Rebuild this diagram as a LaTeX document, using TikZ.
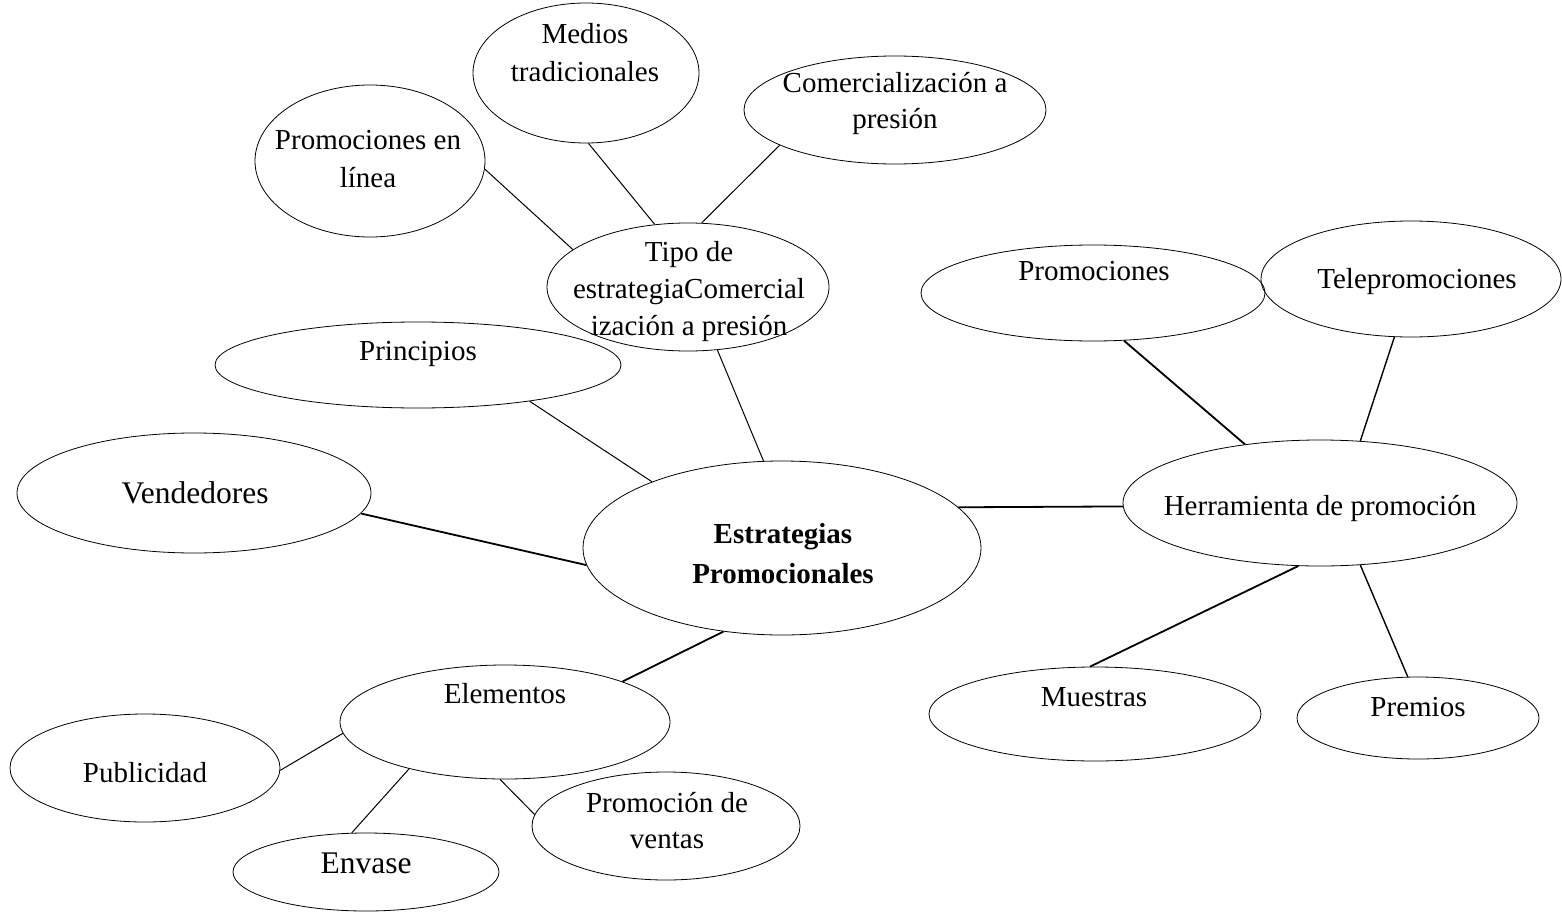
\documentclass[tikz,border=0pt]{standalone}
\usepackage{fontspec}
\setmainfont{Liberation Serif}
\usetikzlibrary{shapes.geometric}
\begin{document}
\begin{tikzpicture}[x=1pt,y=-1pt,
  bub/.style 2 args={draw, ellipse, inner sep=0pt, line width=0.8pt,
    minimum width={2*#1pt}, minimum height={2*#2pt}},
  lbl/.style={font=\fontsize{29}{37}\selectfont, align=center, inner sep=0pt, anchor=base},
  big/.style={font=\fontsize{31.5}{37}\selectfont},
  thinlink/.style={line width=1.0pt},
  midlink/.style={line width=1.4pt},
  thicklink/.style={line width=1.8pt}]
\useasboundingbox (0,0) rectangle (1562,912);

% bubbles
\node[bub={199}{87}]  (C)  at (782,548) {};
\node[bub={141}{64}]  (T)  at (688,287) {};
\node[bub={115}{76}]  (PL) at (370,161) {};
\node[bub={113}{70}]  (MT) at (586,73)  {};
\node[bub={151}{54}]  (CP) at (895,110) {};
\node[bub={203}{43}]  (PR) at (418,365) {};
\node[bub={177}{60}]  (VE) at (194,493) {};
\node[bub={172}{48}]  (PM) at (1093,293) {};
\node[bub={150}{58}]  (TE) at (1411,279) {};
\node[bub={197}{63}]  (HE) at (1320,503) {};
\node[bub={166}{47}]  (MU) at (1095,714) {};
\node[bub={121}{41}]  (PE) at (1418,718) {};
\node[bub={165}{57}]  (EL) at (505,722) {};
\node[bub={135}{54}]  (PU) at (145,768) {};
\node[bub={133}{39}]  (EN) at (366,872) {};
\node[bub={134}{54}]  (PV) at (666,826) {};

% labels (multi-line labels sit on the baseline of their last line)
\node[lbl, font=\fontsize{29}{40}\selectfont\bfseries] (tC) at (783,583) {Estrategias\\Promocionales};
\node[lbl] (tT)  at (689,335) {Tipo de\\estrategiaComercial\\ización a presión};
\node[lbl, font=\fontsize{29}{39}\selectfont] (tPL) at (368,188) {Promociones en\\línea};
\node[lbl, font=\fontsize{29}{38}\selectfont] (tMT) at (585,82)  {Medios\\tradicionales};
\node[lbl, font=\fontsize{29}{36}\selectfont] (tCP) at (895,129) {Comercialización a\\presión};
\node[lbl] (tPR) at (418,360) {Principios};
\node[lbl, big] (tVE) at (195,503) {Vendedores};
\node[lbl] (tPM) at (1094,280) {Promociones};
\node[lbl] (tTE) at (1417,288) {Telepromociones};
\node[lbl] (tHE) at (1320,515) {Herramienta de promoción};
\node[lbl] (tMU) at (1094,706) {Muestras};
\node[lbl] (tPE) at (1418,716) {Premios};
\node[lbl] (tEL) at (505,703) {Elementos};
\node[lbl] (tPU) at (145,782) {Publicidad};
\node[lbl, big] (tEN) at (366,873) {Envase};
\node[lbl, font=\fontsize{29}{36}\selectfont] (tPV) at (667,848) {Promoción de\\ventas};

% connectors
\draw[thinlink]  (PL.-4)    -- (T.162.6);
\draw[thinlink]  (MT.-88)   -- (T.118.7);
\draw[thinlink]  (CP.197.7) -- (T.78.5);
\draw[thinlink]  (T.-65)    -- (C.102.5);
\draw[thinlink]  (PR.-18)   -- (C.153.3);
\draw[thicklink] (VE.-7.1)  -- (C.185.2);
\draw[thicklink] (C.235.5)  -- (EL.19.7);
\draw[thicklink] (C.13.2)   -- (HE.181.2);
\draw[thicklink] (PM.-57.1) -- (HE.142.1);
\draw[midlink]   (TE.-106.8) -- (HE.57.7);
\draw[thicklink] (HE.-109.5) -- (MU.96.2);
\draw[midlink]   (HE.-57.4) -- (PE.104);
\draw[thinlink]  (EL.184.8) -- (PU.-1.7);
\draw[thinlink]  (EL.206)   -- (EN.110.9);
\draw[thinlink]  (EL.-95.6) -- (PV.175.7);
\end{tikzpicture}
\end{document}
